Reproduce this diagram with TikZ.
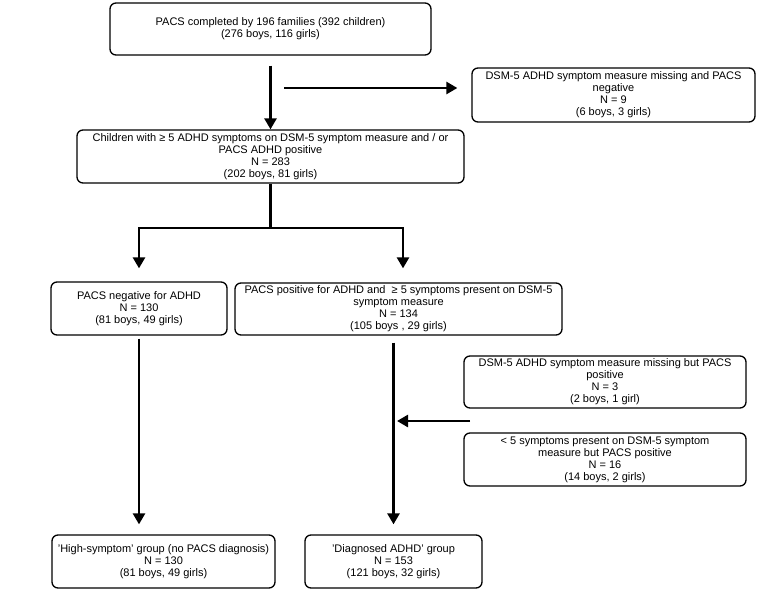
\documentclass[tikz,border=0pt]{standalone}
\usepackage{fontspec}
\setmainfont{Liberation Sans}
\usetikzlibrary{arrows.meta,calc}
\begin{document}
\begin{tikzpicture}[x=1pt,y=-1pt,
  box/.style={draw,line width=1.3pt,rounded corners=6pt,align=center,
    font=\fontsize{11}{12}\selectfont,inner sep=0pt},
  arr/.style={line width=2.6pt,-{Triangle[length=11pt,width=12pt]}},
  ln/.style={line width=2.6pt}]
\useasboundingbox (0,0) rectangle (762,591);
\node[box,minimum width=321pt,minimum height=52pt] (top) at (270.5,29)
  {PACS completed by 196 families (392 children)\\(276 boys, 116 girls)};
\node[box,minimum width=283pt,minimum height=54pt] (right1) at (613.5,95)
  {DSM-5 ADHD symptom measure missing and PACS\\negative\\N = 9\\(6 boys, 3 girls)};
\node[box,minimum width=387pt,minimum height=53pt] (box2) at (270.5,156.5)
  {Children with ≥ 5 ADHD symptoms on DSM-5 symptom measure and / or\\PACS ADHD positive\\N = 283\\(202 boys, 81 girls)};
\node[box,minimum width=176pt,minimum height=53pt] (neg) at (139,308.5)
  {PACS negative for ADHD\\N = 130\\(81 boys, 49 girls)};
\node[box,minimum width=327pt,minimum height=52pt] (pos) at (398.5,309)
  {PACS positive for ADHD and \ ≥ 5 symptoms present on DSM-5\\symptom measure\\N = 134\\(105 boys , 29 girls)};
\node[box,minimum width=282pt,minimum height=52pt] (miss) at (605,382)
  {DSM-5 ADHD symptom measure missing but PACS\\positive\\N = 3\\(2 boys, 1 girl)};
\node[box,minimum width=282pt,minimum height=53pt] (lt5) at (605,459.5)
  {< 5 symptoms present on DSM-5 symptom\\measure but PACS positive\\N = 16\\(14 boys, 2 girls)};
\node[box,minimum width=223pt,minimum height=53pt] (hs) at (163.5,561.5)
  {'High-symptom' group (no PACS diagnosis)\\N = 130\\(81 boys, 49 girls)};
\node[box,minimum width=177pt,minimum height=53pt] (diag) at (393.5,561.5)
  {'Diagnosed ADHD' group\\N = 153\\(121 boys, 32 girls)};
% connectors
\draw[arr,shorten <=10pt] (top.south) -- (box2.north);
\coordinate (h1) at (284,88);
\draw[arr,shorten >=14pt] (h1) -- (h1 -| right1.west);
\coordinate (sp) at (270.5,228);
\draw[ln] (box2.south) -- (sp);
\draw[arr,shorten >=13pt] (sp) -| (neg.north);
\draw[arr,shorten >=14pt] (sp) -| ($(pos.north)+(4.5,0)$);
\draw[arr,shorten <=3pt,shorten >=10pt] (neg.south) -- (neg.south |- hs.north);
\draw[arr,shorten <=7pt,shorten >=10pt] (diag.north |- pos.south) -- (diag.north);
\coordinate (s1) at (470,421);
\draw[arr,shorten >=3.5pt] (s1) -- (s1 -| diag.north);
\end{tikzpicture}
\end{document}
